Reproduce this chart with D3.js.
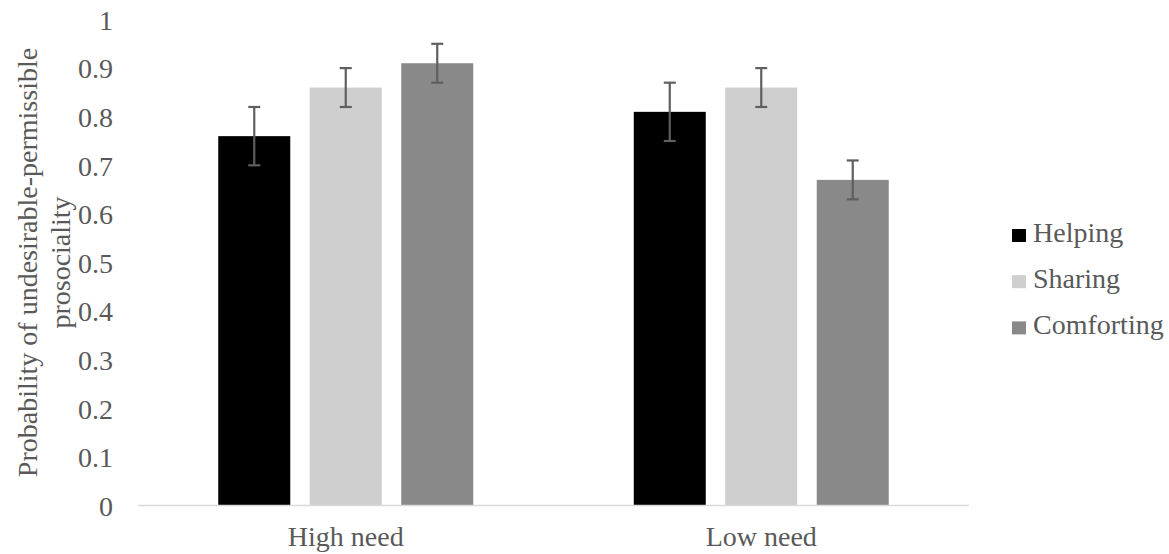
<!DOCTYPE html>
<html>
<head>
<meta charset="utf-8">
<script src="https://cdn.jsdelivr.net/npm/d3@7"></script>
<style>
  html, body { margin: 0; padding: 0; background: #fff; }
  svg { display: block; }
  svg text { font-family: 'Times New Roman', 'Liberation Serif', Times, 'DejaVu Serif', serif !important; }
</style>
</head>
<body>
<svg id="chart" width="1169" height="554"></svg>
<script>
// Chart data
const categories = ["High need", "Low need"];
const seriesNames = ["Helping", "Sharing", "Comforting"];
const seriesColors = ["#000000", "#d0cfcf", "#898989"];
const helping = [0.76, 0.81];
const sharing = [0.86, 0.86];
const comforting = [0.91, 0.67];
const helpingErr = [0.06, 0.06];
const sharingErr = [0.04, 0.04];
const comfortingErr = [0.04, 0.04];
const yTicks = [0, 0.1, 0.2, 0.3, 0.4, 0.5, 0.6, 0.7, 0.8, 0.9, 1];
const yTitleLines = ["Probability of undesirable-permissible", "prosociality"];

const seriesValues = [helping, sharing, comforting];
const seriesErrors = [helpingErr, sharingErr, comfortingErr];

const TEXT_COLOR = "#595959";

const svg = d3.select("#chart");
const plot = { left: 138, right: 969, top: 19.5, bottom: 505.5 };

const x = d3.scaleBand().domain(categories).range([plot.left, plot.right]).padding(0);
const groupWidth = 255;
const xs = d3.scaleBand().domain(seriesNames)
  .range([-groupWidth / 2, groupWidth / 2]).paddingInner(0.213).paddingOuter(0);
const y = d3.scaleLinear().domain([0, 1]).range([plot.bottom, plot.top]);

function styleText(sel) {
  return sel.attr("font-size", 28).style("font-size", "28px").attr("fill", TEXT_COLOR);
}

// Y tick labels
const yAxis = d3.axisLeft(y).tickValues(yTicks)
  .tickFormat(d => String(+d.toFixed(1))).tickSize(0).tickPadding(0);
const yg = svg.append("g").attr("transform", "translate(113,0)").call(yAxis);
yg.attr("font-family", null).attr("font-size", null);
yg.select(".domain").remove();
styleText(yg.selectAll("text")).attr("dy", "0.35em");

// Bars
const rows = [];
seriesNames.forEach((s, si) => {
  categories.forEach((c, ci) => {
    rows.push({ series: s, si, cat: c, value: seriesValues[si][ci], err: seriesErrors[si][ci] });
  });
});

const barX = d => x(d.cat) + x.bandwidth() / 2 + xs(d.series);

svg.append("g").selectAll("rect").data(rows).join("rect")
  .attr("x", barX)
  .attr("width", xs.bandwidth())
  .attr("y", d => y(d.value))
  .attr("height", d => y(0) - y(d.value))
  .attr("fill", d => seriesColors[d.si]);

// X axis line
svg.append("line")
  .attr("x1", plot.left).attr("x2", plot.right)
  .attr("y1", y(0)).attr("y2", y(0))
  .attr("stroke", "#d9d9d9").attr("stroke-width", 1.5);

// Error bars
const eg = svg.append("g").attr("stroke", "#5f5f5f").attr("stroke-width", 2.2);
const cap = 6;
rows.forEach(d => {
  const cx = barX(d) + xs.bandwidth() / 2;
  const y1 = y(d.value + d.err), y2 = y(d.value - d.err);
  eg.append("line").attr("x1", cx).attr("x2", cx).attr("y1", y1).attr("y2", y2);
  eg.append("line").attr("x1", cx - cap).attr("x2", cx + cap).attr("y1", y1).attr("y2", y1);
  eg.append("line").attr("x1", cx - cap).attr("x2", cx + cap).attr("y1", y2).attr("y2", y2);
});

// Category labels
styleText(svg.append("g").selectAll("text").data(categories).join("text")
  .attr("x", d => x(d) + x.bandwidth() / 2)
  .attr("y", 546)
  .attr("text-anchor", "middle")
  .text(d => d));

// Y axis title
const midY = (plot.top + plot.bottom) / 2;
const title = styleText(svg.append("text")
  .attr("transform", `translate(37,${midY}) rotate(-90)`)
  .attr("text-anchor", "middle"));
yTitleLines.forEach((line, i) => {
  title.append("tspan").attr("x", 0).attr("dy", i === 0 ? 0 : 33).text(line);
});

// Legend
const legend = svg.append("g");
seriesNames.forEach((s, i) => {
  const ly = 242 + i * 46.2;
  legend.append("rect").attr("x", 1012).attr("y", ly - 13).attr("width", 14).attr("height", 13)
    .attr("fill", seriesColors[i]);
  styleText(legend.append("text").attr("x", 1033).attr("y", ly).text(s));
});
</script>
</body>
</html>
